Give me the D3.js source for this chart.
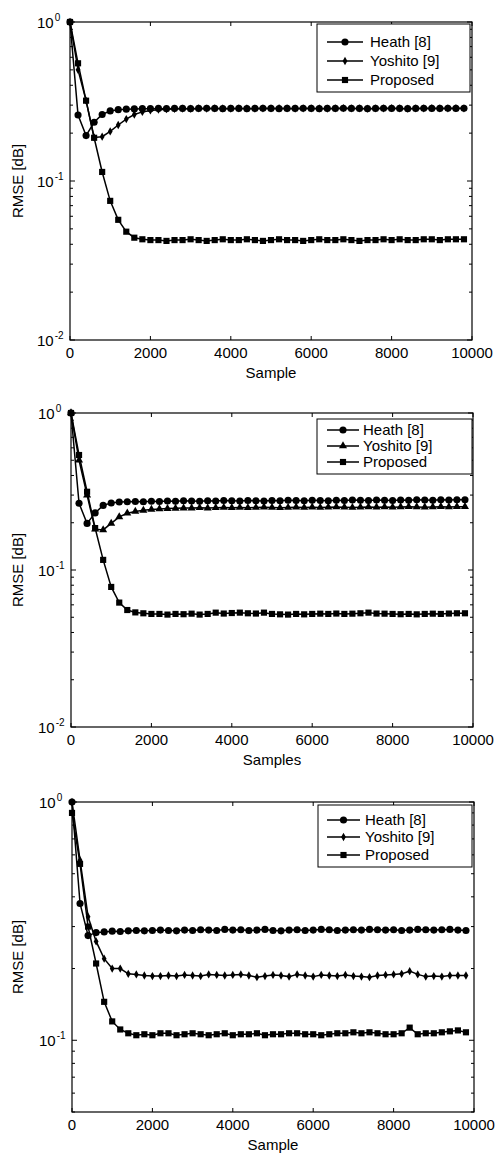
<!DOCTYPE html>
<html>
<head>
<style>
body { margin: 0; background: #fff; }
</style>
</head>
<body>
<div id="chart"></div>
<script src="https://d3js.org/d3.v7.min.js"></script>
<script>
const width = 495;
const height = 1156;

// data: RMSE sampled every 200 samples
const samples = [0,200,400,600,800,1000,1200,1400,1600,1800,
  2000,2200,2400,2600,2800,3000,3200,3400,3600,3800,
  4000,4200,4400,4600,4800,5000,5200,5400,5600,5800,
  6000,6200,6400,6600,6800,7000,7200,7400,7600,7800,
  8000,8200,8400,8600,8800,9000,9200,9400,9600,9800];
const xTicks = [0, 2000, 4000, 6000, 8000, 10000];
const seriesNames = ["Heath [8]", "Yoshito [9]", "Proposed"];

const heath1 = [1.0,0.26,0.193,0.234,0.262,0.276,0.281,0.283,0.284,0.285,
  0.285,0.286,0.285,0.286,0.286,0.285,0.286,0.287,0.286,0.285,
  0.286,0.286,0.285,0.286,0.287,0.286,0.285,0.286,0.286,0.287,
  0.286,0.285,0.286,0.286,0.287,0.286,0.286,0.285,0.286,0.287,
  0.286,0.286,0.285,0.286,0.287,0.286,0.286,0.287,0.286,0.287];
const yoshito1 = [1.0,0.5,0.32,0.188,0.19,0.205,0.225,0.245,0.262,0.272,
  0.278,0.281,0.283,0.284,0.285,0.285,0.286,0.285,0.286,0.286,
  0.285,0.286,0.286,0.285,0.286,0.286,0.287,0.286,0.285,0.286,
  0.286,0.286,0.285,0.286,0.287,0.286,0.286,0.285,0.286,0.286,
  0.287,0.286,0.285,0.286,0.286,0.287,0.286,0.286,0.287,0.286];
const proposed1 = [1.0,0.55,0.32,0.187,0.114,0.075,0.057,0.048,0.044,0.043,
  0.0425,0.0425,0.042,0.0425,0.0425,0.043,0.0425,0.042,0.0425,0.043,
  0.0425,0.0425,0.043,0.0425,0.042,0.0425,0.043,0.0425,0.0425,0.042,
  0.0425,0.043,0.0425,0.0425,0.043,0.0425,0.042,0.0425,0.0425,0.043,
  0.0425,0.043,0.0425,0.0425,0.043,0.043,0.0425,0.043,0.043,0.043];

const heath2 = [1.0,0.266,0.198,0.231,0.258,0.267,0.271,0.272,0.273,0.272,
  0.274,0.273,0.275,0.274,0.276,0.275,0.274,0.276,0.275,0.277,
  0.276,0.275,0.277,0.276,0.275,0.277,0.276,0.278,0.277,0.276,
  0.278,0.277,0.276,0.278,0.277,0.279,0.278,0.277,0.279,0.278,
  0.277,0.279,0.278,0.280,0.279,0.278,0.280,0.279,0.280,0.280];
const yoshito2 = [1.0,0.5,0.3,0.182,0.18,0.198,0.218,0.23,0.236,0.24,
  0.243,0.245,0.246,0.247,0.248,0.248,0.249,0.248,0.249,0.25,
  0.249,0.25,0.249,0.25,0.251,0.25,0.249,0.25,0.251,0.25,
  0.251,0.25,0.251,0.252,0.251,0.25,0.251,0.252,0.251,0.252,
  0.251,0.252,0.253,0.252,0.251,0.252,0.253,0.252,0.253,0.253];
const proposed2 = [1.0,0.54,0.315,0.185,0.116,0.078,0.062,0.0556,0.0537,0.053,
  0.0525,0.0525,0.052,0.0525,0.0523,0.0527,0.052,0.0525,0.0535,0.0528,
  0.0532,0.0535,0.053,0.0528,0.0535,0.0525,0.0522,0.052,0.0525,0.0522,
  0.0525,0.0527,0.0525,0.0528,0.0525,0.0527,0.053,0.0535,0.0528,0.0527,
  0.0525,0.0523,0.0525,0.0522,0.0525,0.0527,0.0525,0.0528,0.053,0.053];

const heath3 = [1.0,0.375,0.275,0.283,0.285,0.287,0.286,0.288,0.289,0.288,
  0.289,0.290,0.289,0.288,0.290,0.289,0.291,0.290,0.289,0.292,
  0.290,0.291,0.289,0.290,0.292,0.289,0.288,0.290,0.291,0.289,
  0.290,0.292,0.291,0.289,0.290,0.291,0.290,0.292,0.291,0.290,
  0.291,0.289,0.290,0.292,0.291,0.290,0.291,0.292,0.290,0.289];
const yoshito3 = [1.0,0.57,0.33,0.26,0.22,0.2,0.2,0.19,0.189,0.187,
  0.186,0.186,0.187,0.186,0.188,0.187,0.186,0.189,0.188,0.187,
  0.188,0.189,0.187,0.184,0.186,0.188,0.187,0.185,0.189,0.187,
  0.185,0.188,0.187,0.186,0.188,0.186,0.185,0.184,0.187,0.188,
  0.189,0.190,0.195,0.189,0.185,0.186,0.185,0.187,0.187,0.187];
const proposed3 = [0.9,0.55,0.3,0.21,0.145,0.12,0.111,0.107,0.105,0.106,
  0.105,0.107,0.107,0.105,0.106,0.107,0.106,0.105,0.106,0.107,
  0.105,0.106,0.106,0.107,0.105,0.106,0.106,0.107,0.107,0.106,
  0.106,0.105,0.106,0.107,0.107,0.108,0.107,0.108,0.107,0.106,
  0.106,0.107,0.113,0.106,0.107,0.107,0.108,0.109,0.110,0.108];

// layout of the three panels
const panels = [
  { top: 22, bottom: 340, left: 70, right: 472, yMin: 0.01, xLabel: "Sample",
    series: [heath1, yoshito1, proposed1], marks: ["circle", "diamond", "square"],
    legend: { x: 317, y: 24, w: 153, h: 68, rows: [42, 61, 80], lx: 327, lw: 36, tx: 370 } },
  { top: 413, bottom: 727, left: 71, right: 473, yMin: 0.01, xLabel: "Samples",
    series: [heath2, yoshito2, proposed2], marks: ["circle", "triangle", "square"],
    legend: { x: 317, y: 419, w: 155, h: 55, rows: [430, 446, 462], lx: 327, lw: 32, tx: 363 } },
  { top: 802, bottom: 1112, left: 72, right: 474, yMin: 0.05, xLabel: "Sample",
    series: [heath3, yoshito3, proposed3], marks: ["circle", "diamond", "square"],
    legend: { x: 318, y: 805, w: 154, h: 62, rows: [820, 837, 855], lx: 327, lw: 33, tx: 365 } }
];

const font = "'Liberation Sans', Arial, Helvetica, sans-serif";

const svg = d3.select("#chart").append("svg")
  .attr("width", width)
  .attr("height", height)
  .style("font-family", font);

svg.append("rect").attr("width", width).attr("height", height).attr("fill", "#fff");

const symbolFor = {
  circle: d3.symbol().type(d3.symbolCircle).size(40),
  square: d3.symbol().type(d3.symbolSquare).size(38),
  diamond: d3.symbol().type(d3.symbolDiamond).size(20),
  triangle: d3.symbol().type(d3.symbolTriangle).size(28)
};

panels.forEach(p => {
  const g = svg.append("g");
  const x = d3.scaleLinear().domain([0, 10000]).range([p.left, p.right]);
  const y = d3.scaleLog().domain([p.yMin, 1]).range([p.bottom, p.top]);

  // frame
  g.append("rect")
    .attr("x", p.left).attr("y", p.top)
    .attr("width", p.right - p.left).attr("height", p.bottom - p.top)
    .attr("fill", "none").attr("stroke", "#000").attr("stroke-width", 1.2);

  // x ticks (inward, bottom and top)
  xTicks.forEach(t => {
    g.append("line").attr("x1", x(t)).attr("x2", x(t))
      .attr("y1", p.bottom).attr("y2", p.bottom - 4).attr("stroke", "#000");
    g.append("line").attr("x1", x(t)).attr("x2", x(t))
      .attr("y1", p.top).attr("y2", p.top + 4).attr("stroke", "#000");
    g.append("text")
      .attr("x", x(t)).attr("y", p.bottom + 18)
      .attr("text-anchor", "middle")
      .attr("font-size", 15)
      .attr("fill", "#000")
      .text(t);
  });

  // y ticks: log decades with minor ticks
  const yTicks = y.ticks();
  yTicks.forEach(t => {
    const exp = Math.round(Math.log10(t));
    const major = Math.abs(Math.log10(t) - exp) < 1e-6;
    const len = major ? 5 : 3;
    g.append("line").attr("x1", p.left).attr("x2", p.left + len)
      .attr("y1", y(t)).attr("y2", y(t)).attr("stroke", "#000");
    g.append("line").attr("x1", p.right).attr("x2", p.right - len)
      .attr("y1", y(t)).attr("y2", y(t)).attr("stroke", "#000");
    if (major) {
      const lab = g.append("text")
        .attr("x", p.left - 33).attr("y", y(t) + 6)
        .attr("font-size", 15)
        .attr("fill", "#000");
      lab.append("tspan").text("10");
      lab.append("tspan").attr("dy", -7).attr("dx", 1).attr("font-size", 10).text(exp);
    }
  });

  // axis labels
  g.append("text")
    .attr("x", (p.left + p.right) / 2).attr("y", p.bottom + 38)
    .attr("text-anchor", "middle").attr("font-size", 15).attr("fill", "#000")
    .text(p.xLabel);
  g.append("text")
    .attr("transform", `translate(23,${(p.top + p.bottom) / 2}) rotate(-90)`)
    .attr("text-anchor", "middle").attr("font-size", 15).attr("fill", "#000")
    .text("RMSE [dB]");

  // series
  const line = d3.line().x((d, i) => x(samples[i])).y(d => y(d));
  p.series.forEach((vals, si) => {
    g.append("path")
      .attr("d", line(vals))
      .attr("fill", "none").attr("stroke", "#000").attr("stroke-width", 1.5);
    g.selectAll(null).data(vals).enter().append("path")
      .attr("transform", (d, i) => `translate(${x(samples[i])},${y(d)})`)
      .attr("d", symbolFor[p.marks[si]]())
      .attr("fill", "#000");
  });

  // legend
  const L = p.legend;
  g.append("rect")
    .attr("x", L.x).attr("y", L.y).attr("width", L.w).attr("height", L.h)
    .attr("fill", "#fff").attr("stroke", "#000").attr("stroke-width", 1);
  seriesNames.forEach((name, i) => {
    const ry = L.rows[i];
    g.append("line").attr("x1", L.lx).attr("x2", L.lx + L.lw)
      .attr("y1", ry).attr("y2", ry).attr("stroke", "#000").attr("stroke-width", 1.5);
    g.append("path")
      .attr("transform", `translate(${L.lx + L.lw / 2},${ry})`)
      .attr("d", symbolFor[p.marks[i]]())
      .attr("fill", "#000");
    g.append("text")
      .attr("x", L.tx).attr("y", ry + 5)
      .attr("font-size", 15).attr("fill", "#000")
      .text(name);
  });
});
</script>
</body>
</html>
